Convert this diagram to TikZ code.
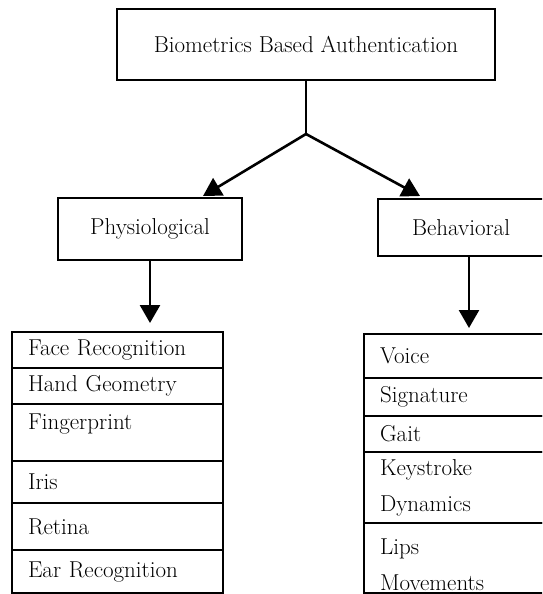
\documentclass[tikz,border=0pt]{standalone}
\usetikzlibrary{positioning,arrows.meta,calc}
\begin{document}
\begin{tikzpicture}[x=1pt, y=-1pt,
  font=\fontsize{23}{36}\selectfont,
  box/.style={draw, line width=2.6pt, inner sep=0pt, outer sep=0pt, align=center},
  cell/.style={draw, line width=1.5pt, anchor=north west, align=left, inner xsep=16pt, inner ysep=0pt, outer sep=0pt},
  ltab/.style={cell, text width=179pt},
  rtab/.style={cell, text width=150pt},
  arr/.style={-{Triangle[length=18pt,width=20pt]}, line width=2.6pt}]
  \useasboundingbox (0,0) rectangle (542,594);
  \clip (0,0) rectangle (542,594);
  % top level
  \node[box, minimum width=378pt, minimum height=71pt] (top) at (306,44.5) {Biometrics Based Authentication};
  \node[box, minimum width=184pt, minimum height=62pt] (phys) at (150,229) {Physiological};
  \node[box, minimum width=166pt, minimum height=57pt] (beh) at (461,227.5) {Behavioral};
  \coordinate (fork) at ([yshift=-54pt]top.south);
  % physiological traits
  \node[ltab, minimum height=36pt] (face) at (12,332) {Face Recognition};
  \node[ltab, minimum height=36pt, below=0pt of face] (hand) {Hand Geometry};
  \node[ltab, minimum height=57pt, below=0pt of hand] (finger) {Fingerprint\\[-14pt] \mbox{}};
  \node[ltab, minimum height=42pt, below=0pt of finger] (iris) {Iris};
  \node[ltab, minimum height=47pt, below=0pt of iris] (retina) {Retina};
  \node[ltab, minimum height=43pt, below=0pt of retina] (ear) {Ear Recognition};
  % behavioral traits
  \node[rtab, minimum height=44pt] (voice) at (364,334) {Voice};
  \node[rtab, minimum height=38pt, below=0pt of voice] (sign) {Signature};
  \node[rtab, minimum height=36pt, below=0pt of sign] (gait) {Gait};
  \node[rtab, minimum height=71pt, below=0pt of gait] (keys) {Keystroke\\Dynamics};
  \node[rtab, minimum height=70pt, below=0pt of keys] (lips) {\mbox{}\\[-6pt]Lips\\Movements};
  % connectors
  \draw[line width=2.6pt] (top.south) -- (fork);
  \draw[arr] (fork) -- ([xshift=-39pt,yshift=2pt]phys.north east);
  \draw[arr] (fork) -- ([xshift=42pt,yshift=3pt]beh.north west);
  \draw[arr, shorten >=9pt] (phys.south) -- (phys.south |- face.north);
  \draw[arr, shorten >=6pt] ([xshift=8pt]beh.south) -- ([xshift=8pt]beh.south |- voice.north);
\end{tikzpicture}
\end{document}
